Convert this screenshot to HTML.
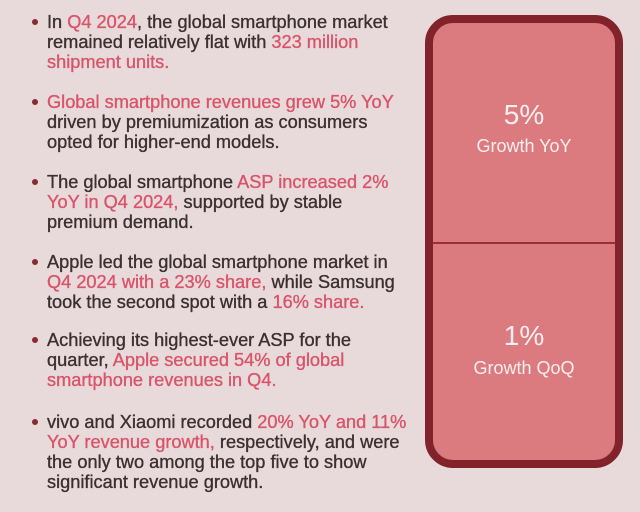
<!DOCTYPE html>
<html><head><meta charset="utf-8"><style>
body{margin:0;width:640px;height:512px;background:#e8dada;font-family:"Liberation Sans",sans-serif;position:relative;overflow:hidden}
.p{position:absolute;left:47px;font-size:18.2px;line-height:20px;color:#3b2f30;white-space:nowrap;-webkit-text-stroke:0.35px #3b2f30}
.p::before{content:"";position:absolute;left:-15px;top:7px;width:6px;height:6px;border-radius:50%;background:#8a2a30}
.h{color:#d9546a;-webkit-text-stroke:0.35px #d9546a}
.box{position:absolute;left:425px;top:15px;width:182px;height:437px;border:8px solid #82222a;border-radius:28px;background:#db7b80}
.div{position:absolute;left:0;right:0;top:219px;height:2px;background:#9a2f36}
.big{position:absolute;left:0;right:0;text-align:center;color:#fbeeee;font-size:28px}
.lab{position:absolute;left:0;right:0;text-align:center;color:#fbeeee;font-size:18px}
</style></head><body>
<div class="p" style="top:12px">In <span class="h">Q4 2024</span>, the global smartphone market<br>remained relatively flat with <span class="h">323 million<br>shipment units.</span></div>
<div class="p" style="top:92px"><span class="h">Global smartphone revenues grew 5% YoY</span><br>driven by premiumization as consumers<br>opted for higher-end models.</div>
<div class="p" style="top:172px">The global smartphone <span class="h">ASP increased 2%<br>YoY in Q4 2024,</span> supported by stable<br>premium demand.</div>
<div class="p" style="top:252px">Apple led the global smartphone market in<br><span class="h">Q4 2024 with a 23% share,</span> while Samsung<br>took the second spot with a <span class="h">16% share.</span></div>
<div class="p" style="top:330px">Achieving its highest-ever ASP for the<br>quarter, <span class="h">Apple secured 54% of global<br>smartphone revenues in Q4.</span></div>
<div class="p" style="top:412px">vivo and Xiaomi recorded <span class="h">20% YoY and 11%<br>YoY revenue growth,</span> respectively, and were<br>the only two among the top five to show<br>significant revenue growth.</div>
<div class="box">
<div class="big" style="top:76px">5%</div>
<div class="lab" style="top:113px">Growth YoY</div>
<div class="div"></div>
<div class="big" style="top:297px">1%</div>
<div class="lab" style="top:335px">Growth QoQ</div>
</div>
</body></html>
